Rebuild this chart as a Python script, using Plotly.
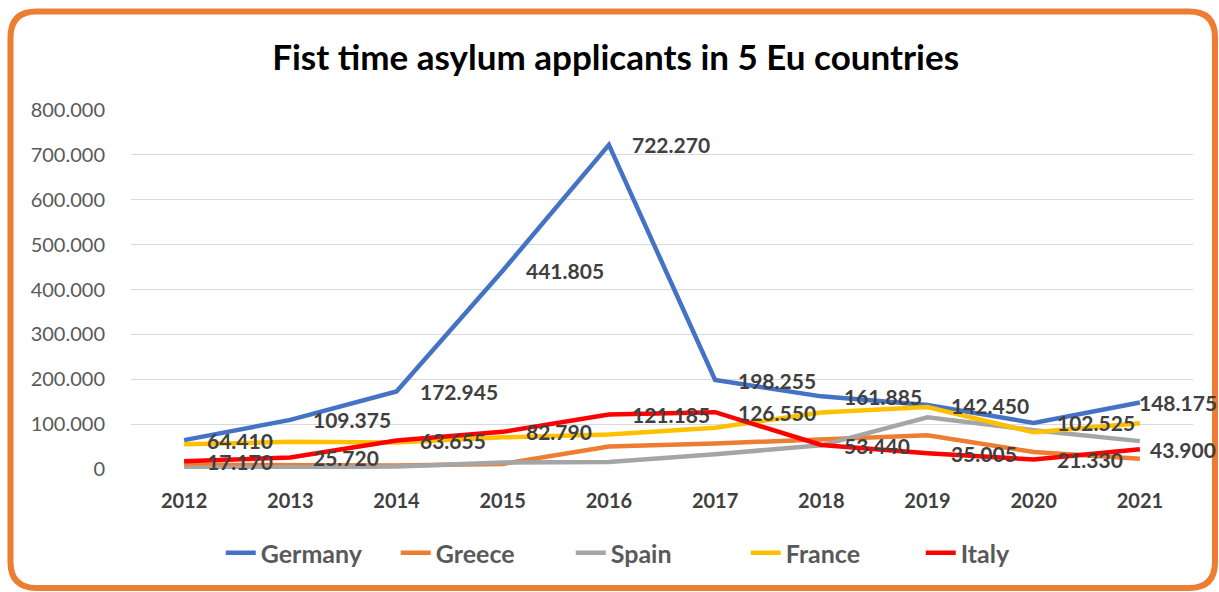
import plotly.graph_objects as go

years = ["2012", "2013", "2014", "2015", "2016", "2017", "2018", "2019", "2020", "2021"]
germany = [64410, 109375, 172945, 441805, 722270, 198255, 161885, 142450, 102525, 148175]
greece = [9600, 7900, 7600, 11400, 49900, 57000, 65000, 75000, 38000, 22600]
spain = [2400, 4300, 5500, 14600, 15600, 33000, 52700, 115200, 86400, 62100]
france = [55000, 60500, 59000, 70500, 77000, 92000, 126000, 138000, 81700, 102000]
italy = [17170, 25720, 63655, 82790, 121185, 126550, 53440, 35005, 21330, 43900]

series = [
    ("Germany", germany, "#4472C4"),
    ("Greece", greece, "#ED7D31"),
    ("Spain", spain, "#A5A5A5"),
    ("France", france, "#FFC000"),
    ("Italy", italy, "#FF0000"),
]
labelled = ["Germany", "Italy"]

W, H = 1219, 592
L, R, T, B = 131, 26, 110, 123
pw, ph = W - L - R, H - T - B


def fmt(v):
    return f"{v:,}".replace(",", ".")


fig = go.Figure()
for name, vals, col in series:
    fig.add_trace(go.Scatter(
        x=years, y=vals, name=name, mode="lines",
        line=dict(color=col, width=4.5),
    ))

annotations = []
for name, vals, col in series:
    if name not in labelled:
        continue
    for i, v in enumerate(vals):
        last = i == len(years) - 1
        annotations.append(dict(
            x=i, y=v, xref="x", yref="y", text=fmt(v), showarrow=False,
            xanchor="left", yanchor="middle",
            xshift=(-3 if (last and name == "Germany") else (8 if last else 21)),
            font=dict(family="Lato", size=21, color="#404040", weight="bold"),
        ))


def px2p(x, y):
    return (x - L) / pw, (H - B - y) / ph


x0, y0, x1, y1, r = 10.5, 11.5, 1215, 588, 26


def P(x, y):
    a, b = px2p(x, y)
    return f"{a:.5f},{b:.5f}"


path = (
    f"M {P(x0 + r, y0)} L {P(x1 - r, y0)} Q {P(x1, y0)} {P(x1, y0 + r)} "
    f"L {P(x1, y1 - r)} Q {P(x1, y1)} {P(x1 - r, y1)} "
    f"L {P(x0 + r, y1)} Q {P(x0, y1)} {P(x0, y1 - r)} "
    f"L {P(x0, y0 + r)} Q {P(x0, y0)} {P(x0 + r, y0)} Z"
)

fig.update_layout(
    width=W, height=H,
    margin=dict(l=L, r=R, t=T, b=B, autoexpand=False),
    paper_bgcolor="white", plot_bgcolor="white",
    separators=",.",
    title=dict(
        text="<b>Fist time asylum applicants in 5 Eu countries</b>",
        x=0.505, xref="container", xanchor="center",
        y=1 - 58 / H, yref="container", yanchor="middle",
        font=dict(family="Lato", size=35, color="#000000"),
    ),
    xaxis=dict(
        type="category", categoryorder="array", categoryarray=years,
        range=[-0.5, 9.5], autorange=False,
        showgrid=False, showline=False, zeroline=False,
        ticks="", tickfont=dict(family="Lato", size=20, color="#404040", weight="bold"),
        ticklabelstandoff=18,
    ),
    yaxis=dict(
        range=[0, 800000], autorange=False,
        tickvals=[0, 100000, 200000, 300000, 400000, 500000, 600000, 700000, 800000],
        tickformat=",d", showgrid=True, gridcolor="#D9D9D9", gridwidth=1.3,
        zeroline=False, showline=False,
        tickfont=dict(family="Lato", size=20, color="#595959"),
        ticklabelstandoff=25,
    ),
    legend=dict(
        orientation="h", x=0.54, xref="container", xanchor="center",
        y=1 - 553 / H, yref="container", yanchor="middle",
        font=dict(family="Lato", size=25, color="#595959", weight="bold"),
        tracegroupgap=0, entrywidth=130,
    ),
    annotations=annotations,
    shapes=[dict(type="path", path=path, xref="paper", yref="paper",
                 line=dict(color="#ED7D31", width=6), layer="above")],
)

fig.write_html("out.html", config={"displayModeBar": False},
               post_script="document.body.style.margin='0';")
